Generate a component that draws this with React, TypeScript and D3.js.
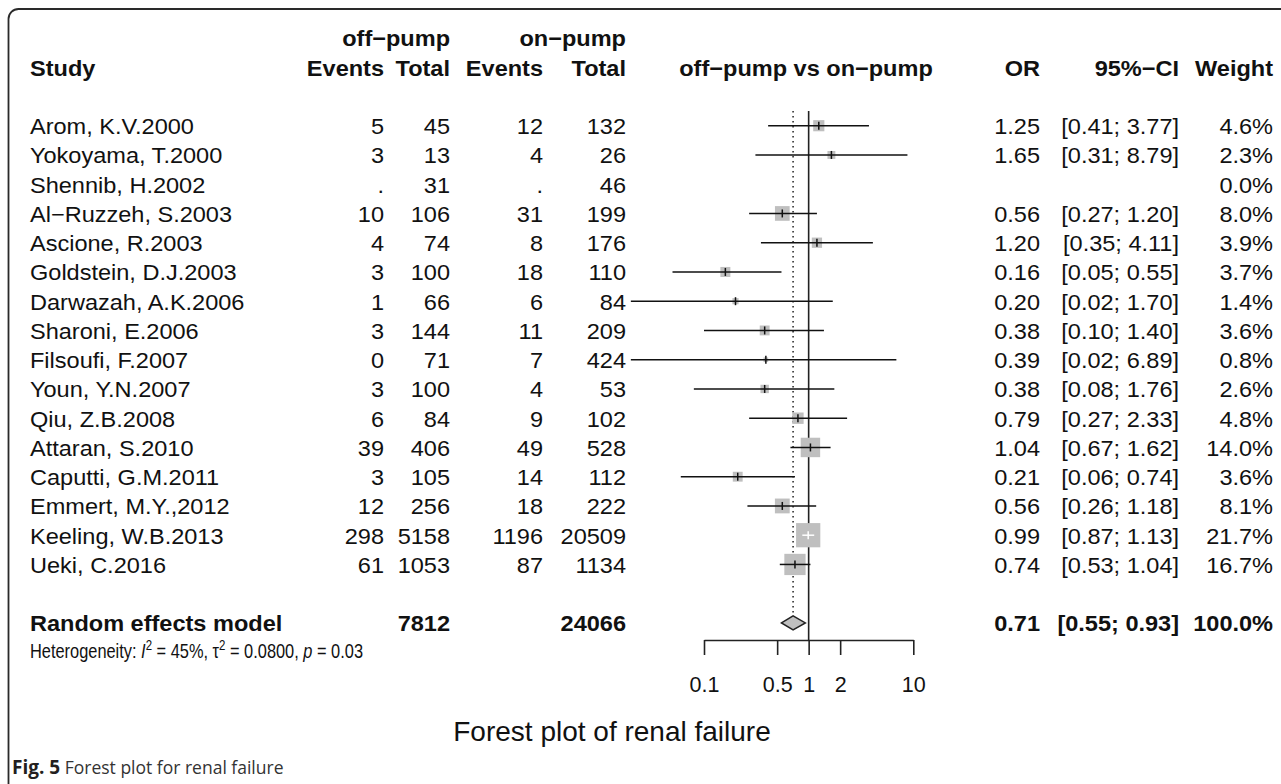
import React, { useRef, useEffect } from 'react';
import * as d3 from 'd3';

// study rows
const studies = [
  'Arom, K.V.2000', 'Yokoyama, T.2000', 'Shennib, H.2002', 'Al−Ruzzeh, S.2003',
  'Ascione, R.2003', 'Goldstein, D.J.2003', 'Darwazah, A.K.2006', 'Sharoni, E.2006',
  'Filsoufi, F.2007', 'Youn, Y.N.2007', 'Qiu, Z.B.2008', 'Attaran, S.2010',
  'Caputti, G.M.2011', 'Emmert, M.Y.,2012', 'Keeling, W.B.2013', 'Ueki, C.2016',
];
const eventsOff = ['5', '3', '.', '10', '4', '3', '1', '3', '0', '3', '6', '39', '3', '12', '298', '61'];
const totalOff = [45, 13, 31, 106, 74, 100, 66, 144, 71, 100, 84, 406, 105, 256, 5158, 1053];
const eventsOn = ['12', '4', '.', '31', '8', '18', '6', '11', '7', '4', '9', '49', '14', '18', '1196', '87'];
const totalOn = [132, 26, 46, 199, 176, 110, 84, 209, 424, 53, 102, 528, 112, 222, 20509, 1134];
const oddsRatio = [1.25, 1.65, null, 0.56, 1.20, 0.16, 0.20, 0.38, 0.39, 0.38, 0.79, 1.04, 0.21, 0.56, 0.99, 0.74];
const lower = [0.41, 0.31, null, 0.27, 0.35, 0.05, 0.02, 0.10, 0.02, 0.08, 0.27, 0.67, 0.06, 0.26, 0.87, 0.53];
const upper = [3.77, 8.79, null, 1.20, 4.11, 0.55, 1.70, 1.40, 6.89, 1.76, 2.33, 1.62, 0.74, 1.18, 1.13, 1.04];
const weight = [4.6, 2.3, 0.0, 8.0, 3.9, 3.7, 1.4, 3.6, 0.8, 2.6, 4.8, 14.0, 3.6, 8.1, 21.7, 16.7];

// pooled estimate
const pooled = { or: 0.71, lower: 0.55, upper: 0.93, weight: 100, totalOff: 7812, totalOn: 24066 };
const axisTicks = [0.1, 0.5, 1, 2, 10];

const App: React.FC = () => {
  const ref = useRef<SVGSVGElement>(null);

  useEffect(() => {
    const svg = d3.select(ref.current);
    svg.selectAll('*').remove();

    const rowY = (i: number) => 125.7 + 29.25 * i;
    const x = d3.scaleLog().domain([0.1, 10]).range([704, 913.3]);
    const fs = 22;
    const sx = 1.07;

    const txt = (s: string, tx: number, ty: number, anchor = 'start', bold = false, size = fs, scale = sx) =>
      svg.append('text')
        .attr('transform', `translate(${tx},${ty}) scale(${scale},1)`)
        .attr('text-anchor', anchor)
        .style('font-weight', bold ? 'bold' : 'normal')
        .style('font-size', size + 'px')
        .attr('fill', '#111')
        .text(s);

    // frame
    svg.append('rect')
      .attr('x', 8.5).attr('y', 9).attr('width', 1400).attr('height', 900)
      .attr('rx', 10)
      .attr('fill', 'none').attr('stroke', '#2a2a2a').attr('stroke-width', 1.8);

    const cols = { study: 30, evOff: 384, totOff: 450, evOn: 543, totOn: 626, or: 1040, ci: 1179, w: 1273 };
    const base = 8.5;

    // headers
    txt('off−pump', cols.totOff, rowY(-3) + base, 'end', true);
    txt('on−pump', cols.totOn, rowY(-3) + base, 'end', true);
    txt('Study', cols.study, rowY(-2) + base, 'start', true);
    txt('Events', cols.evOff, rowY(-2) + base, 'end', true);
    txt('Total', cols.totOff, rowY(-2) + base, 'end', true);
    txt('Events', cols.evOn, rowY(-2) + base, 'end', true);
    txt('Total', cols.totOn, rowY(-2) + base, 'end', true);
    txt('off−pump vs on−pump', 806, rowY(-2) + base, 'middle', true);
    txt('OR', cols.or, rowY(-2) + base, 'end', true);
    txt('95%−CI', cols.ci, rowY(-2) + base, 'end', true);
    txt('Weight', cols.w, rowY(-2) + base, 'end', true);

    const fmt2 = d3.format('.2f');
    const fmt1 = d3.format('.1f');

    // reference lines
    svg.append('line')
      .attr('x1', x(1)).attr('x2', x(1)).attr('y1', 111).attr('y2', 640)
      .attr('stroke', '#222').attr('stroke-width', 1.6);
    svg.append('line')
      .attr('x1', x(pooled.or)).attr('x2', x(pooled.or)).attr('y1', 111).attr('y2', rowY(17) - 7)
      .attr('stroke', '#222').attr('stroke-width', 1.5).attr('stroke-dasharray', '1.5,3.5');

    studies.forEach((s, i) => {
      const y = rowY(i);
      txt(s, cols.study, y + base);
      txt(eventsOff[i], cols.evOff, y + base, 'end');
      txt(String(totalOff[i]), cols.totOff, y + base, 'end');
      txt(eventsOn[i], cols.evOn, y + base, 'end');
      txt(String(totalOn[i]), cols.totOn, y + base, 'end');
      txt(fmt1(weight[i]) + '%', cols.w, y + base, 'end');
      const o = oddsRatio[i];
      const lo = lower[i];
      const hi = upper[i];
      if (o == null || lo == null || hi == null) return;
      txt(fmt2(o), cols.or, y + base, 'end');
      txt(`[${fmt2(lo)}; ${fmt2(hi)}]`, cols.ci, y + base, 'end');

      const side = 5.2 * Math.sqrt(weight[i]);
      const cx = x(o);
      svg.append('rect')
        .attr('x', cx - side / 2).attr('y', y - side / 2)
        .attr('width', side).attr('height', side)
        .attr('fill', '#bfbfbf');
      const inside = x(lo) >= cx - side / 2 && x(hi) <= cx + side / 2;
      const col = inside ? '#ffffff' : '#111';
      svg.append('line')
        .attr('x1', x(lo)).attr('x2', x(hi)).attr('y1', y).attr('y2', y)
        .attr('stroke', col).attr('stroke-width', 1.5);
      svg.append('line')
        .attr('x1', cx).attr('x2', cx).attr('y1', y - 4).attr('y2', y + 4)
        .attr('stroke', col).attr('stroke-width', 1.5);
    });

    // pooled row
    const py = rowY(17);
    txt('Random effects model', cols.study, py + base, 'start', true);
    txt(String(pooled.totalOff), cols.totOff, py + base, 'end', true);
    txt(String(pooled.totalOn), cols.totOn, py + base, 'end', true);
    txt(fmt2(pooled.or), cols.or, py + base, 'end', true);
    txt(`[${fmt2(pooled.lower)}; ${fmt2(pooled.upper)}]`, cols.ci, py + base, 'end', true);
    txt(fmt1(pooled.weight) + '%', cols.w, py + base, 'end', true);

    const diamond = [
      [x(pooled.lower), py], [x(pooled.or), py - 7], [x(pooled.upper), py], [x(pooled.or), py + 7],
    ];
    svg.append('polygon')
      .attr('points', diamond.map(p => p.join(',')).join(' '))
      .attr('fill', '#bfbfbf').attr('stroke', '#222').attr('stroke-width', 1.5);

    // heterogeneity
    const het = svg.append('text')
      .attr('transform', `translate(${cols.study},${rowY(18) + 6}) scale(0.82,1)`)
      .style('font-size', '20px').attr('fill', '#111');
    het.append('tspan').text('Heterogeneity: ');
    het.append('tspan').style('font-style', 'italic').text('I');
    het.append('tspan').attr('dy', -8).style('font-size', '14px').text('2');
    het.append('tspan').attr('dy', 8).text(' = 45%, τ');
    het.append('tspan').attr('dy', -8).style('font-size', '14px').text('2');
    het.append('tspan').attr('dy', 8).text(' = 0.0800, ');
    het.append('tspan').style('font-style', 'italic').text('p');
    het.append('tspan').text(' = 0.03');

    // axis
    const axis = d3.axisBottom(x)
      .tickValues(axisTicks)
      .tickFormat(d => String(d))
      .tickSize(15)
      .tickSizeOuter(0)
      .tickPadding(22);
    const ax = svg.append('g').attr('transform', 'translate(0,640)').call(axis);
    ax.select('.domain').attr('stroke', '#222').attr('stroke-width', 1.6);
    ax.selectAll('.tick line').attr('stroke', '#222').attr('stroke-width', 1.6);
    ax.selectAll('.tick text')
      .style('font-size', '21.5px')
      .style('font-family', 'Liberation Sans, Arial, sans-serif')
      .attr('fill', '#111');

    txt('Forest plot of renal failure', 612, 741, 'middle', false, 28, 1);

    // caption
    const cap = svg.append('text')
      .attr('x', 12).attr('y', 774)
      .style('font-family', '"Open Sans", sans-serif')
      .style('font-size', '17.5px').attr('fill', '#333');
    cap.append('tspan').style('font-weight', 'bold').style('font-size', '19px').attr('fill', '#231f20').text('Fig. 5');
    cap.append('tspan').text('  Forest plot for renal failure');
  }, []);

  return (
    <svg
      ref={ref}
      width={1281}
      height={784}
      style={{ position: 'absolute', left: 0, top: 0, background: '#fff', fontFamily: 'Liberation Sans, Arial, sans-serif' }}
    />
  );
};

export default App;
